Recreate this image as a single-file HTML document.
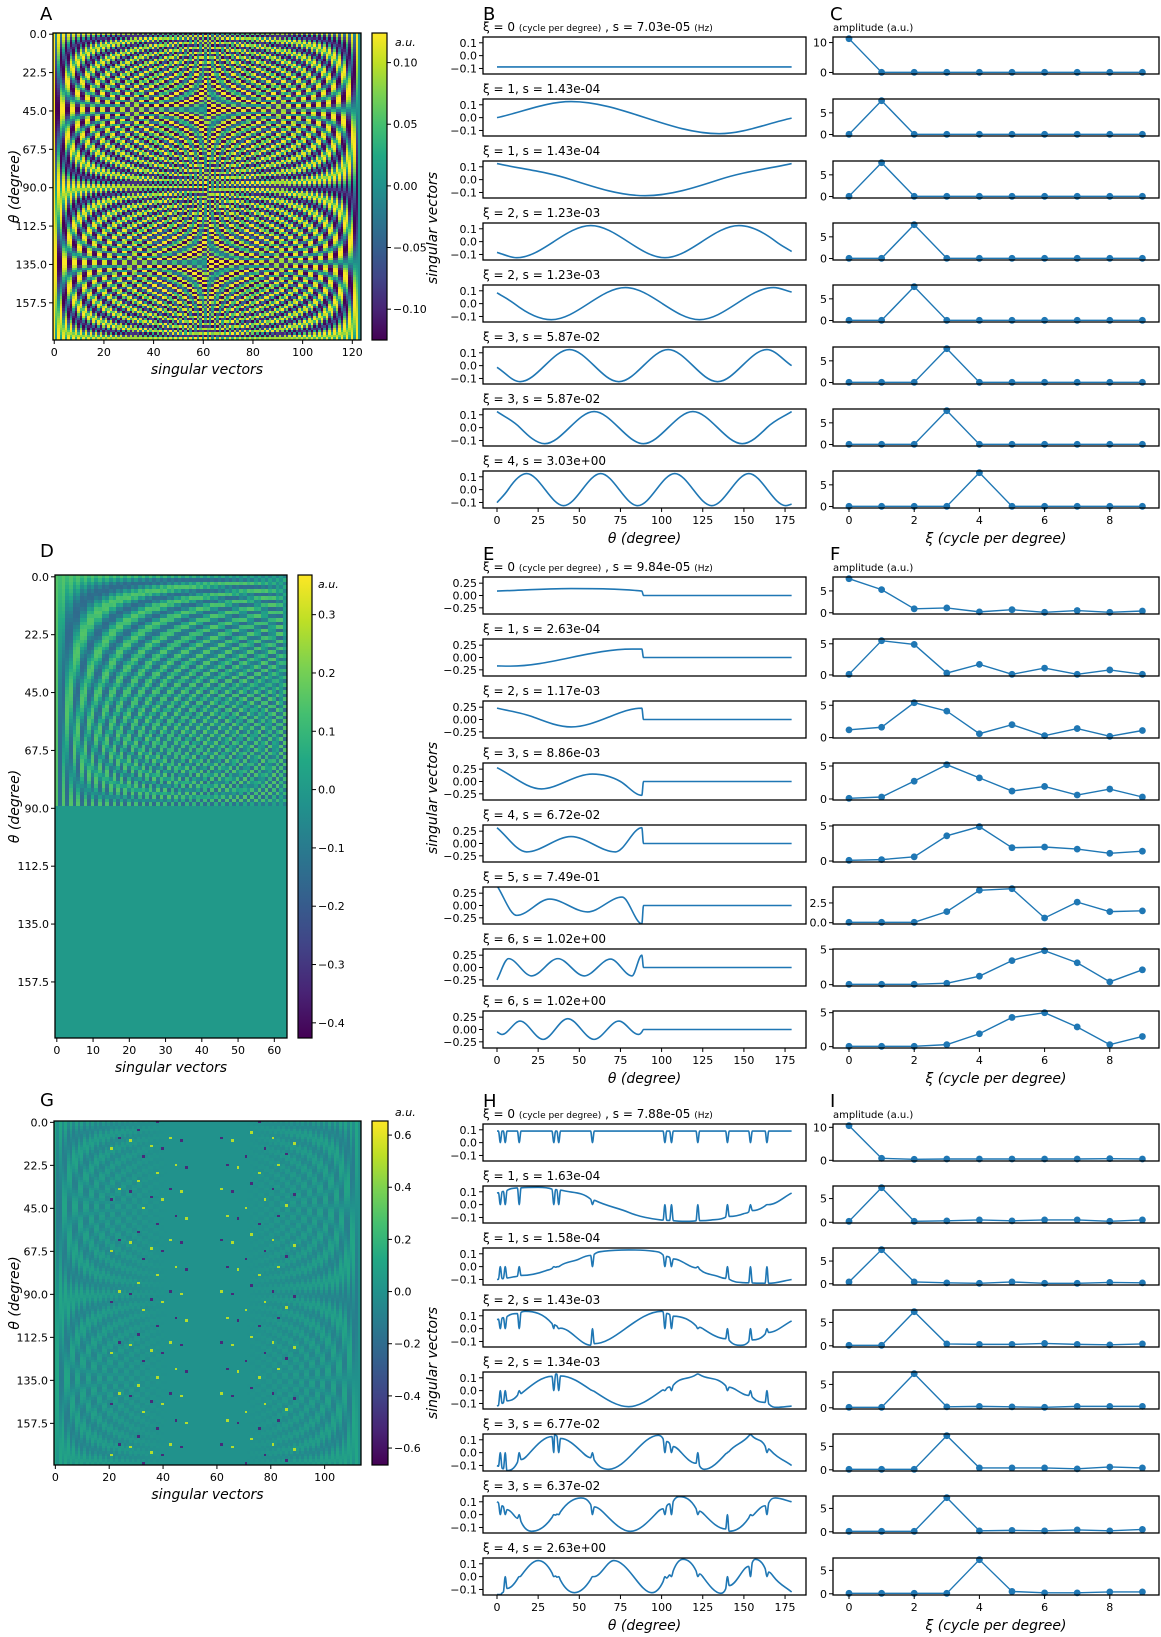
<!DOCTYPE html>
<html><head><meta charset="utf-8">
<style>
html,body{margin:0;padding:0;background:#fff;}
#wrap{position:relative;width:1161px;height:1637px;overflow:hidden;}
canvas{position:absolute;image-rendering:pixelated;}
svg{position:absolute;left:0;top:0;}
text{font-family:"DejaVu Sans","Liberation Sans",sans-serif;fill:#000;}
</style></head>
<body>
<div id="wrap">
<canvas id="cA"></canvas>
<canvas id="cD"></canvas>
<canvas id="cG"></canvas>
<svg id="fig" width="1161" height="1637">
<defs>
<linearGradient id="vir" x1="0" y1="1" x2="0" y2="0">
<stop offset="0" stop-color="#440154"/><stop offset="0.1" stop-color="#482475"/><stop offset="0.2" stop-color="#414487"/><stop offset="0.3" stop-color="#355f8d"/><stop offset="0.4" stop-color="#2a788e"/><stop offset="0.5" stop-color="#21918c"/><stop offset="0.6" stop-color="#22a884"/><stop offset="0.7" stop-color="#44bf70"/><stop offset="0.8" stop-color="#7ad151"/><stop offset="0.9" stop-color="#bddf26"/><stop offset="1" stop-color="#fde725"/>
</linearGradient>
</defs>
</svg>
</div>
<script>
// ---------- data: line panels (theta, value key points) ----------
const thetaTicks=[0,25,50,75,100,125,150,175];
const xiTicks=[0,2,4,6,8];
const xiCats=[0,1,2,3,4,5,6,7,8,9];
const bTitles=["0|7.03e-05","ξ = 1, s = 1.43e-04","ξ = 1, s = 1.43e-04","ξ = 2, s = 1.23e-03","ξ = 2, s = 1.23e-03","ξ = 3, s = 5.87e-02","ξ = 3, s = 5.87e-02","ξ = 4, s = 3.03e+00"];
const eTitles=["0|9.84e-05","ξ = 1, s = 2.63e-04","ξ = 2, s = 1.17e-03","ξ = 3, s = 8.86e-03","ξ = 4, s = 6.72e-02","ξ = 5, s = 7.49e-01","ξ = 6, s = 1.02e+00","ξ = 6, s = 1.02e+00"];
const hTitles=["0|7.88e-05","ξ = 1, s = 1.63e-04","ξ = 1, s = 1.58e-04","ξ = 2, s = 1.43e-03","ξ = 2, s = 1.34e-03","ξ = 3, s = 6.77e-02","ξ = 3, s = 6.37e-02","ξ = 4, s = 2.63e+00"];
const bCurves=[
 [[0,-0.088],[179,-0.088]],
 [[0,0],[45,0.125],[90,0],[135,-0.125],[179,-0.004]],
 [[0,0.125],[45,0],[90,-0.125],[135,0],[179,0.125]],
 [[0,-0.084],[12,-0.125],[34.5,0],[57,0.125],[79.5,0],[102,-0.125],[124.5,0],[147,0.125],[169.5,0],[179,-0.077]],
 [[0,0.084],[10.5,0],[33,-0.125],[55.5,0],[78,0.125],[100.5,0],[123,-0.125],[145.5,0],[168,0.125],[179,0.09]],
 [[0,-0.013],[14,-0.125],[29,0],[44,0.125],[59,0],[74,-0.125],[89,0],[104,0.125],[119,0],[134,-0.125],[149,0],[164,0.125],[179,0]],
 [[0,0.125],[14,0],[29,-0.125],[44,0],[59,0.125],[74,0],[89,-0.125],[104,0],[119,0.125],[134,0],[149,-0.125],[164,0],[179,0.125]],
 [[0,-0.101],[6.75,0],[18,0.125],[29.25,0],[40.5,-0.125],[51.75,0],[63,0.125],[74.25,0],[85.5,-0.125],[96.75,0],[108,0.125],[119.25,0],[130.5,-0.125],[141.75,0],[153,0.125],[164.25,0],[175.5,-0.125],[179,-0.113]]
];
const eCurves=[
 [[0,0.09],[45,0.14],[88,0.09],[89,0],[179,0]],
 [[0,-0.17],[8,-0.175],[45,0],[82,0.17],[88,0.17],[89,0],[179,0]],
 [[0,0.23],[22,0.05],[45,-0.15],[68,0.05],[88,0.23],[89,0],[179,0]],
 [[0,0.28],[27,-0.15],[42,0],[58,0.15],[75,0],[88,-0.28],[89,0],[179,0]],
 [[0,0.32],[18,-0.17],[45,0.14],[72,-0.17],[88,0.32],[89,0],[179,0]],
 [[0,0.40],[12,-0.2],[32,0.13],[55,-0.13],[76,0.17],[88,-0.37],[89,0],[179,0]],
 [[0,-0.25],[7,0.18],[21,-0.17],[37,0.18],[53,-0.17],[69,0.17],[82,-0.17],[88,0.25],[89,0],[179,0]],
 [[0,-0.05],[3,-0.1],[14,0.17],[28,-0.2],[43,0.22],[59,-0.2],[74,0.17],[86,-0.1],[88,-0.05],[89,0],[179,0]]
];
const hCurves=[
 [[0,0.09],[179,0.09]],
 [[0,0.09],[12,0.13],[25,0.135],[40,0.11],[60,0.03],[80,-0.06],[100,-0.12],[115,-0.13],[130,-0.12],[150,-0.07],[165,0.0],[179,0.09]],
 [[0,-0.1],[10,-0.08],[30,-0.03],[50,0.06],[65,0.12],[80,0.13],[95,0.12],[115,0.02],[135,-0.08],[150,-0.125],[165,-0.13],[179,-0.1]],
 [[0,0.07],[17,0.135],[35,0.03],[57,-0.13],[78,0.0],[100,0.135],[125,0.0],[148,-0.13],[165,-0.03],[179,0.06]],
 [[0,-0.12],[15,-0.02],[36,0.13],[58,0.0],[80,-0.125],[100,0.0],[122,0.13],[146,0.0],[170,-0.13],[179,-0.12]],
 [[0,-0.1],[6,-0.14],[20,0.0],[35,0.14],[52,0.0],[68,-0.13],[83,0.0],[98,0.135],[112,0.0],[126,-0.13],[140,0.0],[154,0.14],[166,0.02],[179,-0.1]],
 [[0,0.1],[10,0.0],[21,-0.13],[36,0.0],[51,0.13],[66,0.0],[81,-0.13],[96,0.0],[111,0.14],[126,0.0],[141,-0.13],[156,0.0],[169,0.13],[179,0.1]],
 [[0,-0.14],[2,-0.14],[14,0.0],[25,0.125],[36,0.0],[47,-0.125],[59,0.0],[71,0.125],[83,0.0],[94,-0.125],[104,0.0],[113,0.135],[125,0.0],[136,-0.13],[147,0.0],[157,0.135],[168,0.0],[179,-0.12]]
];
const hSpikeTheta=[2,5,13.5,34.5,37.5,58,102,106,122,140,154,164];
const hSpikeTip=[0,0,0,0,0,0,0,0];
// ---------- data: amplitude spectra ----------
const cAmps=[
 [11.3,0.05,0.05,0.05,0.05,0.05,0.05,0.05,0.05,0.05],
 [0.05,7.8,0.05,0.05,0.05,0.05,0.05,0.05,0.05,0.05],
 [0.05,7.8,0.05,0.05,0.05,0.05,0.05,0.05,0.05,0.05],
 [0.05,0.05,7.8,0.05,0.05,0.05,0.05,0.05,0.05,0.05],
 [0.05,0.05,7.8,0.05,0.05,0.05,0.05,0.05,0.05,0.05],
 [0.05,0.05,0.05,7.8,0.05,0.05,0.05,0.05,0.05,0.05],
 [0.05,0.05,0.05,7.8,0.05,0.05,0.05,0.05,0.05,0.05],
 [0.05,0.05,0.05,0.05,7.8,0.05,0.05,0.05,0.05,0.05]
];
const fAmps=[
 [7.8,5.3,0.9,1.1,0.2,0.7,0.1,0.5,0.1,0.4],
 [0.1,5.5,4.9,0.3,1.7,0.1,1.1,0.1,0.8,0.1],
 [1.2,1.6,5.4,4.1,0.6,2.0,0.3,1.4,0.2,1.1],
 [0.1,0.3,2.7,5.2,3.2,1.2,1.9,0.6,1.5,0.3],
 [0.1,0.2,0.6,3.6,4.9,1.9,2.0,1.7,1.1,1.4],
 [0.05,0.05,0.05,1.4,4.1,4.3,0.6,2.6,1.4,1.5],
 [0.05,0.05,0.05,0.2,1.2,3.4,4.8,3.1,0.4,2.1],
 [0.05,0.05,0.05,0.3,1.9,4.3,5.0,2.9,0.3,1.5]
];
const iAmps=[
 [10.5,0.6,0.3,0.4,0.4,0.4,0.4,0.4,0.5,0.4],
 [0.2,7.3,0.2,0.3,0.5,0.3,0.5,0.5,0.2,0.5],
 [0.4,7.5,0.4,0.2,0.1,0.4,0.1,0.1,0.3,0.2],
 [0.1,0.1,7.3,0.4,0.3,0.3,0.5,0.3,0.2,0.4],
 [0.1,0.1,7.3,0.2,0.3,0.2,0.1,0.3,0.3,0.3],
 [0.1,0.1,0.1,7.3,0.4,0.4,0.4,0.2,0.6,0.4],
 [0.1,0.1,0.1,7.3,0.2,0.3,0.2,0.4,0.2,0.5],
 [0.1,0.1,0.1,0.1,7.3,0.5,0.2,0.2,0.4,0.4]
];
// ---------- data: heatmaps ----------
const heatRows=128;
const thetaYTicks=[0,22.5,45,67.5,90,112.5,135,157.5];
const cbarTicksA=[0.10,0.05,0.00,-0.05,-0.10];
const cbarTicksD=[0.3,0.2,0.1,0.0,-0.1,-0.2,-0.3,-0.4];
const cbarTicksG=[0.6,0.4,0.2,0.0,-0.2,-0.4,-0.6];
const colTicksA=[0,20,40,60,80,100,120];
const colTicksD=[0,10,20,30,40,50,60];
const colTicksG=[0,20,40,60,80,100];
const gDotCols=[21,24,28,31,33,36,38,40,43,45,47,49,62,64,66,68,71,73,76,78,81,83,86,89];
const heatA=[];const heatD=[];const heatG=[];
const nA=124,nD=64,nG=114;
for(let j=0;j<nA;j++){const m=Math.min(j,nA-1-j);const col=[];for(let r=0;r<heatRows;r++){col.push(0.125*Math.cos(2*Math.PI*m*(r+0.5)/heatRows+(j%2)*Math.PI/2));}heatA.push(col);}
for(let j=0;j<nD;j++){const col=[];for(let r=0;r<heatRows;r++){col.push(r<64?0.15*Math.cos(Math.PI*j*(r+0.5)/64+(j%2)*0.6):0);}heatD.push(col);}
for(let j=0;j<nG;j++){const m=Math.min(j,nG-1-j);const w=Math.max(0,1-m/42);const isDot=gDotCols.indexOf(j)>=0;const col=[];for(let r=0;r<heatRows;r++){let v=0.12*w*Math.cos(2*Math.PI*m*(r+0.5)/heatRows+(j%2)*Math.PI/2);if(isDot&&((r*7+j*3)%19===0)){v=((r+j)%2)?0.5:-0.5;}col.push(v);}heatG.push(col);}

// ---------- helpers ----------
const NS='http://www.w3.org/2000/svg';
const svg=document.getElementById('fig');
function mk(tag,attrs,parent){const e=document.createElementNS(NS,tag);for(const k in attrs)e.setAttribute(k,attrs[k]);(parent||svg).appendChild(e);return e;}
function txt(x,y,s,size,parent,extra){const e=mk('text',Object.assign({x:x,y:y,'font-size':size},extra||{}),parent);e.textContent=s;return e;}
const V=[[68,1,84],[72,36,117],[65,68,135],[53,95,141],[42,120,142],[33,145,140],[34,168,132],[68,191,112],[122,209,81],[189,223,38],[253,231,37]];
function vir(t){t=Math.max(0,Math.min(1,t))*10;const i=Math.min(9,Math.floor(t));const f=t-i;const a=V[i],b=V[i+1];return 'rgb('+Math.round(a[0]+(b[0]-a[0])*f)+','+Math.round(a[1]+(b[1]-a[1])*f)+','+Math.round(a[2]+(b[2]-a[2])*f)+')';}
function fmtNum(v,d){const s=Math.abs(v).toFixed(d);return (v<-1e-9?'\u2212':'')+s;}
function monoPath(px,py){const n=px.length;if(n<2)return '';const d=[],m=[];for(let i=0;i<n-1;i++)d.push((py[i+1]-py[i])/(px[i+1]-px[i]));m[0]=d[0];m[n-1]=d[n-2];
 for(let i=1;i<n-1;i++){if(d[i-1]*d[i]<=0)m[i]=0;else{let hm=2/(1/d[i-1]+1/d[i])*1.5;const cap=3*Math.min(Math.abs(d[i-1]),Math.abs(d[i]));if(Math.abs(hm)>cap)hm=Math.sign(hm)*cap;m[i]=hm;}}
 let s='M'+px[0].toFixed(2)+','+py[0].toFixed(2);for(let i=0;i<n-1;i++){const h=px[i+1]-px[i];s+='C'+(px[i]+h/3).toFixed(2)+','+(py[i]+m[i]*h/3).toFixed(2)+' '+(px[i+1]-h/3).toFixed(2)+','+(py[i+1]-m[i+1]*h/3).toFixed(2)+' '+px[i+1].toFixed(2)+','+py[i+1].toFixed(2);}return s;}

// ---------- heatmap drawing ----------
function heatmap(cid,data,x0,y0,x1,y1,vmin,vmax,cbx0,cbx1,cbTicks,cbDec,colTicks,letter,letterY,auPos,name){
 const cv=document.getElementById(cid);cv.style.left=x0+'px';cv.style.top=y0+'px';cv.width=Math.round(x1-x0);cv.height=Math.round(y1-y0);
 const ctx=cv.getContext('2d');const n=data.length;const cw=(x1-x0)/n,rh=(y1-y0)/heatRows;
 for(let j=0;j<n;j++)for(let r=0;r<heatRows;r++){ctx.fillStyle=vir((data[j][r]-vmin)/(vmax-vmin));ctx.fillRect(Math.floor(j*cw),Math.floor(r*rh),Math.ceil(cw)+1,Math.ceil(rh)+1);}
 const g=mk('g',{});
 const fr=mk('rect',{x:x0,y:y0,width:x1-x0,height:y1-y0,fill:'none',stroke:'#000','stroke-width':1.3},g);
 thetaYTicks.forEach(t=>{const y=y0+(t/180)*(y1-y0)+rh/2;mk('line',{x1:x0-4,x2:x0,y1:y,y2:y,stroke:'#000','stroke-width':1},g);const l=txt(x0-6,y+4,t.toFixed(1),11,g,{'text-anchor':'end'});});
 colTicks.forEach(c=>{const x=x0+(c+0.5)*cw;mk('line',{x1:x,x2:x,y1:y1,y2:y1+4,stroke:'#000','stroke-width':1},g);const l=txt(x,y1+16,String(c),11,g,{'text-anchor':'middle'});});
 const xl=txt((x0+x1)/2,y1+34,'singular vectors',14,g,{'text-anchor':'middle','font-style':'italic'});
 const yc=(y0+y1)/2;const yl=txt(0,0,'θ (degree)',14,g,{'text-anchor':'middle','font-style':'italic',transform:'translate(19,'+yc+') rotate(-90)'});
 const L=txt(40,letterY,letter,18,g);
 const cb=mk('rect',{x:cbx0,y:y0,width:cbx1-cbx0,height:y1-y0,fill:'url(#vir)',stroke:'#000','stroke-width':1.2},g);
 cbTicks.forEach(v=>{const y=y1-(v-vmin)/(vmax-vmin)*(y1-y0);mk('line',{x1:cbx1,x2:cbx1+4,y1:y,y2:y,stroke:'#000','stroke-width':1},g);const l=txt(cbx1+6,y+4,fmtNum(v,cbDec),11,g);});
 const au=txt(auPos[0],auPos[1],'a.u.',11,g,{'font-style':'italic'});
}
heatmap('cA',heatA,53,33,361,340,-0.125,0.124,372,387,cbarTicksA,2,colTicksA,'A',20,[395,46],'heatmap-a');
heatmap('cD',heatD,55,575,287,1038,-0.426,0.368,298,312,cbarTicksD,1,colTicksD,'D',557,[318,588],'heatmap-d');
heatmap('cG',heatG,54,1121,361,1465,-0.665,0.654,372,388,cbarTicksG,1,colTicksG,'G',1106,[395,1116],'heatmap-g');

// ---------- line panel ----------
let clipId=0;
function titleText(x,y,s,g){if(s.indexOf('|')>=0){const p=s.split('|');const t=mk('text',{x:x,y:y,'font-size':12},g);
 const a=mk('tspan',{},t);a.textContent='ξ = '+p[0]+' ';const b=mk('tspan',{'font-size':9},t);b.textContent='(cycle per degree)';const c=mk('tspan',{},t);c.textContent=' , s = '+p[1]+' ';const d=mk('tspan',{'font-size':9},t);d.textContent='(Hz)';return t;}
 return txt(x,y,s,12,g);}
function thetaPanel(top0,curves,titles,ylim,yticks,ydec,letter,svY,spikes,name){
 const L=483,R=806,H=37,P=62;const xs=t=>497+t*1.646;
 const lab=txt(483,top0-17,letter,18);
 curves.forEach((keys,k)=>{const top=top0+P*k,bot=top+H;const ys=v=>bot-(v-ylim[0])/(ylim[1]-ylim[0])*H;
  const g=mk('g',{});
  const tt=titleText(L,top-6,titles[k],g);
  const cid='clip'+(clipId++);const cp=mk('clipPath',{id:cid},g);mk('rect',{x:L,y:top,width:R-L,height:H},cp);
  let pts=keys.map(p=>[p[0],p[1]]);
  if(spikes){const base=t=>{for(let i=0;i<keys.length-1;i++){if(t>=keys[i][0]&&t<=keys[i+1][0]){const f=(t-keys[i][0])/(keys[i+1][0]-keys[i][0]);return keys[i][1]+f*(keys[i+1][1]-keys[i][1]);}}return keys[keys.length-1][1];};
   spikes.forEach(s=>{pts.push([s-1.1,base(s-1.1)]);pts.push([s,hSpikeTip[k]]);pts.push([s+1.1,base(s+1.1)]);});
   pts.sort((a,b)=>a[0]-b[0]);const q=[];pts.forEach(p=>{if(!q.length||p[0]-q[q.length-1][0]>0.3)q.push(p);});pts=q;}
  const ln=mk('path',{d:monoPath(pts.map(p=>xs(p[0])),pts.map(p=>ys(p[1]))),fill:'none',stroke:'#1f77b4','stroke-width':1.6,'clip-path':'url(#'+cid+')'},g);
  
  const fr=mk('rect',{x:L,y:top,width:R-L,height:H,fill:'none',stroke:'#000','stroke-width':1.3},g);
  yticks.forEach(v=>{const y=ys(v);mk('line',{x1:L-4,x2:L,y1:y,y2:y,stroke:'#000','stroke-width':1},g);const l=txt(L-6,y+4,fmtNum(v,ydec),11,g,{'text-anchor':'end'});});
  if(k===curves.length-1){thetaTicks.forEach(t=>{const x=xs(t);mk('line',{x1:x,x2:x,y1:bot,y2:bot+4,stroke:'#000','stroke-width':1},g);const l=txt(x,bot+16,String(t),11,g,{'text-anchor':'middle'});});
   const xl=txt((L+R)/2,bot+35,'θ (degree)',14,g,{'text-anchor':'middle','font-style':'italic'});}
 });
 const sv=txt(0,0,'singular vectors',14,null,{'text-anchor':'middle','font-style':'italic',transform:'translate(437,'+svY+') rotate(-90)'});
}
function stemPanel(top0,amps,letter,name){
 const L=833,R=1159,H=37,P=62;const xs=c=>849+c*32.6;
 const lab=txt(830,top0-17,letter,18);
 const au=txt(833,top0-6,'amplitude (a.u.)',10);
 amps.forEach((vals,k)=>{const top=top0+P*k,bot=top+H;const mn=Math.min(...vals),mx=Math.max(...vals);const pad=0.05*(mx-mn);const lo=mn-pad,hi=mx+pad;const ys=v=>bot-(v-lo)/(hi-lo)*H;
  const g=mk('g',{});
  const pl=mk('polyline',{points:vals.map((v,i)=>xs(xiCats[i]).toFixed(2)+','+ys(v).toFixed(2)).join(' '),fill:'none',stroke:'#1f77b4','stroke-width':1.4},g);
  vals.forEach((v,i)=>{const c=mk('circle',{cx:xs(xiCats[i]),cy:ys(v),r:3.4,fill:'#1f77b4'},g);});
  const fr=mk('rect',{x:L,y:top,width:R-L,height:H,fill:'none',stroke:'#000','stroke-width':1.3},g);
  const step=mx>10?10:(mx<4.6?2.5:5);const dec=step===2.5?1:0;
  for(let v=Math.ceil(lo/step)*step;v<=hi+1e-9;v+=step){const y=ys(v);mk('line',{x1:L-4,x2:L,y1:y,y2:y,stroke:'#000','stroke-width':1},g);const l=txt(L-6,y+4,fmtNum(v,dec),11,g,{'text-anchor':'end'});}
  if(k===amps.length-1){xiTicks.forEach(t=>{const x=xs(t);mk('line',{x1:x,x2:x,y1:bot,y2:bot+4,stroke:'#000','stroke-width':1},g);const l=txt(x,bot+16,String(t),11,g,{'text-anchor':'middle'});});
   const xl=txt((L+R)/2,bot+35,'ξ (cycle per degree)',14,g,{'text-anchor':'middle','font-style':'italic'});}
 });
}
thetaPanel(37,bCurves,bTitles,[-0.143,0.145],[0.1,0.0,-0.1],1,'B',228,null,'panel-b');
thetaPanel(577,eCurves,eTitles,[-0.375,0.375],[0.25,0.0,-0.25],2,'E',798,null,'panel-e');
thetaPanel(1124,hCurves,hTitles,[-0.143,0.145],[0.1,0.0,-0.1],1,'H',1363,hSpikeTheta,'panel-h');
stemPanel(37,cAmps,'C','panel-c');
stemPanel(577,fAmps,'F','panel-f');
stemPanel(1124,iAmps,'I','panel-i');
</script>
</body></html>
